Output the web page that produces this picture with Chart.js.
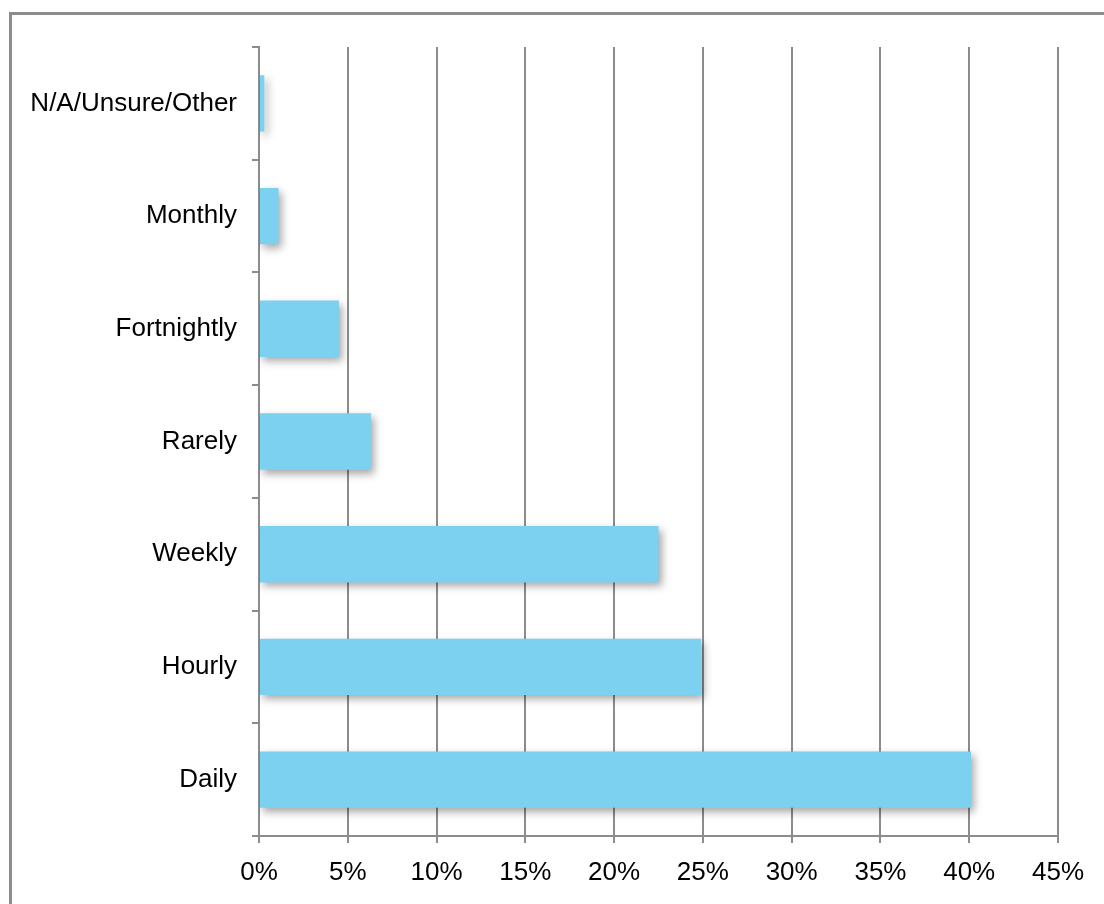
<!DOCTYPE html>
<html>
<head>
<meta charset="utf-8">
<script src="https://cdn.jsdelivr.net/npm/chart.js@4"></script>
<style>
  body { margin: 0; background: #fff; overflow: hidden; }
  #frame { position: absolute; left: 9px; top: 12px; width: 1200px; height: 1000px; border: 3px solid #8c8c8c; }
  #chart { position: absolute; left: 0; top: 0; }
</style>
</head>
<body>
<div id="frame"></div>
<canvas id="chart" width="1104" height="904"></canvas>
<script>
/* Data */
const categories = ['N/A/Unsure/Other', 'Monthly', 'Fortnightly', 'Rarely', 'Weekly', 'Hourly', 'Daily'];
const shares = [0.3, 1.1, 4.5, 6.3, 22.5, 24.9, 40.1];
const tickMax = 45;
const tickStep = 5;

/* Bar shadow */
const barShadow = {
  id: 'barShadow',
  beforeDatasetsDraw(chart) {
    const ctx = chart.ctx;
    ctx.save();
    ctx.shadowColor = 'rgba(0,0,0,0.35)';
    ctx.shadowBlur = 8;
    ctx.shadowOffsetX = 3;
    ctx.shadowOffsetY = 4;
  },
  afterDatasetsDraw(chart) {
    chart.ctx.restore();
  }
};

/* Chart */
new Chart(document.getElementById('chart'), {
  type: 'bar',
  data: {
    labels: categories,
    datasets: [{
      data: shares,
      backgroundColor: '#7cd0f0',
      borderWidth: 0,
      categoryPercentage: 0.5,
      barPercentage: 1
    }]
  },
  options: {
    indexAxis: 'y',
    responsive: false,
    animation: false,
    layout: { padding: { left: 0, top: 47, right: 46, bottom: 0 } },
    plugins: {
      legend: { display: false },
      tooltip: { enabled: false }
    },
    scales: {
      x: {
        min: 0,
        max: tickMax,
        afterFit(scale) { scale.height = 68; },
        grid: { color: '#8c8c8c', lineWidth: 2, tickLength: 7 },
        border: { color: '#8c8c8c', width: 2 },
        ticks: {
          stepSize: tickStep,
          padding: 14,
          color: '#000',
          font: { family: 'Liberation Sans, Arial, sans-serif', size: 26 },
          callback: v => v + '%'
        }
      },
      y: {
        afterFit(scale) { scale.width = 259; },
        grid: { drawOnChartArea: false, color: '#8c8c8c', lineWidth: 2, tickLength: 7 },
        border: { color: '#8c8c8c', width: 2 },
        ticks: {
          padding: 15,
          color: '#000',
          font: { family: 'Liberation Sans, Arial, sans-serif', size: 26 }
        }
      }
    }
  },
  plugins: [barShadow]
});
</script>
</body>
</html>
